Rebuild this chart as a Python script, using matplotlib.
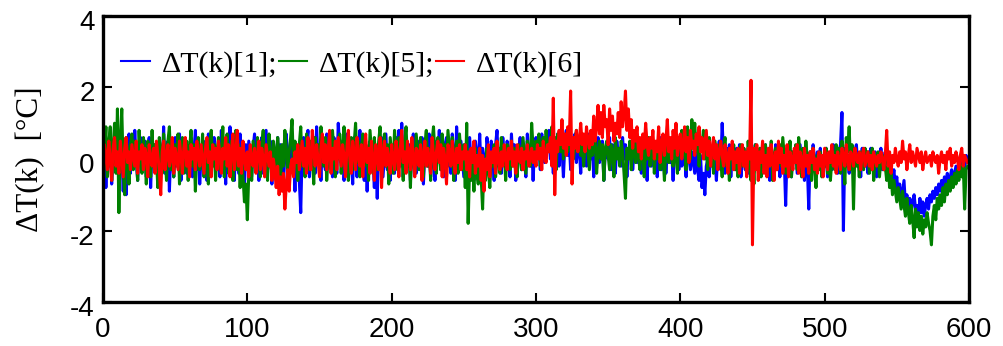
import matplotlib
matplotlib.use("Agg")
import matplotlib.pyplot as plt
import matplotlib.transforms as mtrans
import numpy as np

# temperature deviation, one value per step k = 0..599
dt1 = [
    0.3, 0.8, -0.8, 0.5, -0.2, 0.6, -0.7, 0.2, 0.4, -0.3,
    0.1, -0.5, 0.6, 0.2, -0.9, 0.4, -1.0, 0.3, 0.7, -0.4,
    0.5, -0.2, 0.8, 0.0, -0.6, 0.3, 0.6, -0.3, 0.1, 0.5,
    -0.5, 0.2, 0.6, -0.8, 0.3, -0.2, 0.4, 0.0, -0.6, 0.5,
    0.2, -0.3, 0.9, -0.4, 0.1, 0.5, -0.9, 0.3, 0.0, -0.5,
    0.6, -0.2, 0.3, 0.7, -0.6, 0.2, -0.1, 0.5, -0.4, 0.3,
    0.0, 0.6, -0.5, 0.2, 0.8, -0.3, 0.4, -0.7, 0.1, 0.3,
    -0.2, 0.5, -0.6, 0.7, 0.0, -0.4, 0.3, 0.6, -0.2, 0.1,
    0.4, -0.5, 0.8, -0.1, 0.2, -0.7, 0.5, 0.0, 0.9, -0.3,
    0.3, -0.6, 0.6, 0.1, -0.4, 0.7, -0.2, 0.2, -0.8, 0.4,
    -0.3, 0.5, 0.0, -0.5, 0.3, 0.7, -0.2, 0.4, -0.6, 0.1,
    0.6, -0.4, 0.2, 0.8, -0.3, 0.0, 0.5, -0.7, 0.3, 0.1,
    -0.2, 0.6, -0.5, 0.4, 0.0, -0.8, 0.3, 0.7, -0.4, 0.2,
    0.5, -0.3, 0.1, -0.9, 0.4, 0.0, -0.6, -1.5, 0.3, 0.6,
    -0.2, 0.4, 0.8, -0.5, 0.2, 0.0, 0.6, -0.4, 0.9, -0.1,
    0.3, -0.6, 0.5, 0.1, -0.3, 0.7, -0.2, 0.4, 0.0, -0.5,
    0.6, 0.2, -0.4, 1.0, 0.3, -0.1, 0.5, -0.6, 0.2, 0.7,
    -0.3, 0.4, 0.0, -0.7, 0.6, 0.2, -0.5, 0.3, 0.8, -0.2,
    0.1, -0.6, 0.4, -0.9, 0.2, 0.5, -0.3, 0.0, -0.8, 0.3,
    -1.1, 0.4, -0.2, 0.6, -0.5, 0.1, 0.7, -0.3, 0.2, -0.6,
    0.4, 0.0, -0.4, 0.6, 0.2, 0.8, -0.2, 1.0, -0.5, 0.3,
    0.6, -0.1, 0.4, -0.6, 0.2, 0.7, 0.0, -0.4, 0.5, 0.1,
    -0.3, 0.6, -0.7, 0.2, 0.4, -0.2, 0.7, -0.5, 0.1, 0.3,
    -0.6, 0.5, 0.0, 0.8, -0.3, 0.2, -0.5, 0.4, 0.6, -0.2,
    0.3, -0.4, 0.7, 0.1, -0.6, 0.9, 0.2, -0.3, 0.5, 0.0,
    -0.5, 0.4, 0.2, -0.3, 0.6, -0.1, 0.3, -0.6, 0.5, 0.1,
    -0.2, 0.7, -0.4, 0.3, 0.0, -0.5, 0.6, 0.2, -0.3, 0.5,
    0.1, -0.6, 0.4, 0.8, -0.2, 0.3, -0.4, 0.6, 0.0, -0.3,
    0.5, 0.2, -0.5, 0.7, -0.1, 0.4, -0.6, 0.3, 0.1, 0.6,
    -0.3, 0.4, 0.0, -0.5, 0.7, 0.2, -0.2, 0.5, -0.6, 0.3,
    0.6, 0.1, 0.4, -0.3, 0.7, 0.2, -0.1, 0.5, 0.3, 0.8,
    0.0, 0.4, -0.4, 0.6, 0.2, 0.7, -0.2, 0.5, 0.3, -0.5,
    0.4, 0.8, 0.1, 0.5, -0.3, 0.6, 0.2, 0.7, -0.1, 0.4,
    0.3, -0.4, 0.6, 0.1, 0.5, -0.2, 0.7, 0.3, 0.0, 0.5,
    -0.5, 0.4, 0.2, 0.6, -0.1, 0.3, 0.5, -0.6, 0.2, 0.4,
    0.0, 0.6, -0.3, 0.4, 0.2, -0.4, 0.5, 0.1, 0.3, -0.2,
    0.6, 0.0, 0.4, -0.5, 0.3, 0.1, 0.5, -0.3, 0.2, 0.6,
    -0.1, 0.4, 0.2, -0.4, 0.5, 0.0, 0.3, -0.6, 0.4, 0.1,
    -0.2, 0.5, 0.0, 0.3, -0.5, 0.2, 0.6, -0.3, 0.1, 0.4,
    -0.4, 0.2, 0.5, -0.1, 0.3, -0.6, 0.4, 0.0, 0.2, -0.3,
    0.5, -0.2, 0.3, 0.0, -0.5, 0.4, 0.1, -0.3, 0.2, -0.1,
    -0.4, 0.3, -0.3, -0.6, 0.1, -0.8, -0.4, -1.0, -0.2, 0.0,
    -0.5, 0.3, -0.2, 0.4, 0.0, -0.6, 0.2, 0.5, -0.3, 1.0,
    0.1, -0.4, 0.3, -0.1, 0.4, -0.5, 0.2, 0.0, -0.3, 0.3,
    -0.2, 0.4, -0.5, 0.1, 0.3, -0.3, 0.2, -0.4, 0.0, 0.3,
    -0.6, 0.2, 0.4, -0.2, 0.1, -0.5, 0.3, 0.0, -0.3, 0.4,
    -0.1, 0.2, -0.6, 0.3, 0.0, -0.4, 0.4, -0.2, 0.1, -0.5,
    0.2, -0.3, 0.0, -1.3, 0.3, -0.2, 0.1, -0.5, 0.2, -0.1,
    0.3, -0.4, 0.0, 0.4, -0.3, 0.1, -0.6, 0.2, -0.2, -1.4,
    0.2, -0.3, 0.4, 0.0, -0.5, 0.2, -0.1, 0.3, -0.4, 0.1,
    -0.2, 0.3, -0.5, 0.0, 0.2, -0.3, 0.4, -0.1, 0.1, -0.4,
    0.2, 0.4, 1.3, -2.0, 0.3, -0.2, 0.1, -0.4, 0.3, 0.0,
    -0.3, 0.2, 0.4, -0.2, 0.1, -0.5, 0.3, 0.0, -0.2, 0.2,
    -0.4, 0.1, 0.3, -0.3, 0.0, 0.2, -0.5, 0.1, -0.1, 0.3,
    -0.3, 0.0, 0.2, -0.4, -0.1, -0.5, -0.2, -0.6, -0.3, -0.8,
    -0.5, -1.0, -0.7, -1.2, -0.9, -0.6, -1.3, -1.0, -1.4, -1.1,
    -1.5, -1.2, -1.0, -1.4, -1.3, -1.6, -1.1, -1.5, -1.2, -1.6,
    -1.3, -1.1, -1.4, -1.0, -1.2, -0.9, -1.1, -0.8, -1.0, -0.7,
    -0.9, -0.6, -0.8, -0.5, -0.7, -0.4, -0.8, -0.5, -0.3, -0.6,
    -0.4, -0.2, -0.5, -0.1, -0.3, 0.0, -0.4, -0.2, 0.1, -0.1,
]

dt5 = [
    -0.8, 0.2, 0.9, -0.5, 0.4, 0.9, -0.6, 0.3, 1.0, -0.4,
    1.4, -1.5, 0.5, 1.4, -0.3, -1.0, 0.6, 0.2, -0.7, 0.4,
    0.7, -0.3, 0.5, 0.1, -0.6, 0.8, 0.0, -0.4, 0.6, 0.2,
    -0.7, 0.5, 0.3, -0.5, 0.8, -0.2, 0.4, 0.0, -0.8, 0.6,
    0.2, -0.4, 0.7, 0.1, -0.6, 0.5, 0.9, -0.3, 0.3, -0.5,
    0.4, 0.0, 0.7, -0.7, 0.2, 0.6, -0.4, 0.1, 0.5, -0.6,
    0.3, 0.8, -0.2, 0.4, -0.9, 0.2, 0.6, -0.3, 0.0, 0.7,
    -0.5, 0.3, 0.1, -0.7, 0.5, 0.8, -0.2, 0.4, -0.6, 0.2,
    0.6, -0.3, 0.0, 0.9, -0.5, 0.3, 0.7, -0.4, 0.1, 0.5,
    -0.6, 0.2, 0.8, -0.3, 0.4, -0.8, 0.1, -0.5, -1.2, -0.7,
    -1.7, -0.4, 0.3, -0.6, 0.5, 0.1, -0.3, 0.6, 0.2, -0.5,
    0.4, 0.8, -0.2, 0.3, -0.6, 0.7, 0.0, -0.4, 0.5, 0.2,
    -0.3, 0.6, 0.1, -0.7, 0.4, -0.2, 0.8, 0.3, -0.5, 0.2,
    0.6, 1.1, -0.3, 0.5, 0.0, -0.6, 0.4, 0.9, -0.2, 0.3,
    -0.5, 0.7, 0.1, -0.3, 0.5, 0.2, -0.7, 0.6, 0.0, 0.4,
    -0.4, 0.9, 0.3, -0.2, 0.6, -0.6, 0.1, 0.5, -0.3, 0.8,
    0.2, -0.5, 0.4, 0.0, 0.7, -0.4, 0.3, 0.9, -0.2, 0.5,
    -0.6, 0.2, 0.6, -0.3, 0.4, 1.0, -0.1, 0.5, -0.5, 0.3,
    0.7, -0.2, 0.4, 0.1, -0.6, 0.8, 0.2, -0.4, 0.6, 0.0,
    -0.3, 0.5, 0.9, -0.5, 0.3, 0.7, -0.2, 0.4, -0.7, 0.6,
    0.1, -0.4, 0.8, 0.2, -0.3, 0.6, 0.0, 0.4, -0.6, 0.5,
    0.9, -0.2, 0.3, -0.8, 0.5, 0.1, -0.4, 0.7, 0.2, -0.3,
    0.6, 0.0, -0.5, 0.4, 0.8, -0.2, 0.3, -0.6, 0.5, 0.9,
    0.1, -0.4, 0.6, 0.2, -0.3, 0.7, 0.0, 0.4, -0.5, 0.8,
    0.3, -0.2, 0.6, -0.6, 0.2, 0.5, -0.4, 0.7, 0.1, -0.3,
    0.4, -0.8, 1.0, -1.8, -0.2, -0.6, 0.1, -0.9, 0.3, -0.4,
    -0.7, 0.2, -0.5, -1.4, 0.0, -0.6, 0.3, -0.3, -0.8, 0.1,
    -0.2, 0.4, -0.5, 0.0, 0.3, -0.4, 0.6, -0.1, 0.2, -0.6,
    0.4, 0.1, -0.3, 0.5, -0.2, 0.3, 0.0, -0.5, 0.4, 0.2,
    -0.3, 0.6, 0.1, -0.4, 0.5, 0.2, -0.2, 1.0, 0.3, -0.1,
    0.5, 0.1, 0.7, -0.2, 0.4, 0.6, 0.0, 0.8, 0.2, 0.5,
    0.3, 0.9, 0.1, 0.6, -0.3, 0.7, 0.4, 0.2, 0.8, 0.0,
    0.5, 0.7, 0.2, 0.9, 0.3, 0.6, 0.0, 0.4, 0.8, 0.2,
    0.6, 0.1, 0.5, -0.2, 0.4, 0.7, 0.2, -0.3, 0.5, 0.1,
    0.3, 0.6, -0.4, 0.2, 0.5, 0.0, 0.4, -0.6, 0.3, 0.5,
    0.1, -0.3, 0.4, 0.2, -0.5, 0.6, 0.0, 0.3, -0.2, 0.5,
    0.2, -0.4, -1.1, 0.3, 0.0, 0.5, -0.3, 0.2, 0.6, -0.1,
    0.4, 0.1, -0.3, 0.5, 0.2, -0.5, 0.3, 0.0, 0.6, -0.2,
    0.2, 0.5, -0.4, 0.3, 0.0, 0.6, -0.3, 0.4, 0.1, -0.6,
    0.3, 0.7, -0.1, 0.4, 0.2, -0.2, 0.5, 0.1, -0.4, 0.6,
    0.3, 0.8, 0.1, 0.5, -0.3, 0.9, 0.4, 0.0, 1.1, 0.3,
    1.0, 0.2, 0.7, -0.2, 0.5, 0.3, 0.8, 0.0, 0.4, -0.3,
    0.6, 0.1, 0.3, -0.4, 0.5, 0.2, -0.1, 0.4, 0.0, -0.5,
    0.3, 0.6, -0.2, 0.1, -0.6, 0.3, 0.0, 0.4, -0.3, 0.2,
    -0.5, 0.1, 0.4, -0.2, 0.3, 0.0, -0.4, 0.5, -0.1, -0.6,
    0.2, -0.7, 0.4, 0.0, -0.3, 0.3, -0.5, 0.1, -0.2, 0.4,
    -0.4, 0.2, -0.1, 0.5, -0.6, 0.1, 0.3, -0.3, 0.0, 0.4,
    -0.2, 0.6, 0.1, -0.4, 0.3, -0.1, 0.5, -0.5, 0.2, 0.0,
    0.4, -0.3, 0.6, 0.1, -0.5, 0.3, -0.2, 0.5, 0.0, -0.4,
    0.2, -0.6, 0.3, -0.1, -0.8, 0.1, -0.3, 0.2, -0.5, 0.0,
    -0.2, 0.3, -0.4, 0.1, -0.6, 0.0, 0.2, -0.3, 0.4, -0.1,
    0.3, -0.4, 0.5, 0.0, -0.7, 0.6, 0.2, 0.9, -0.3, 0.4,
    -1.4, 0.3, -0.2, 0.1, -0.5, 0.2, 0.0, -0.3, 0.3, -0.1,
    0.2, -0.4, 0.0, 0.3, -0.6, 0.1, -0.2, 0.2, -0.5, 0.0,
    0.1, -0.3, -0.2, -0.6, 0.0, -0.8, -0.4, -1.0, -0.6, -0.9,
    -1.2, -0.8, -1.1, -1.4, -0.9, -1.3, -1.6, -1.1, -1.5, -1.8,
    -1.3, -1.7, -2.2, -1.4, -1.9, -1.5, -2.0, -1.6, -2.1, -1.7,
    -1.9, -1.5, -1.8, -2.0, -2.4, -1.6, -1.3, -1.7, -1.1, -1.4,
    -1.0, -1.3, -0.8, -1.2, -0.7, -1.0, -0.6, -0.9, -0.5, -0.8,
    -0.4, -0.7, -0.3, -0.6, -0.2, -0.5, -0.1, -1.4, -0.3, -0.2,
]

dt6 = [
    -0.5, 0.4, 0.1, -0.3, 0.5, 0.0, -0.6, 0.3, 0.6, -0.2,
    0.2, -0.4, 0.5, 0.0, -0.5, 0.3, 0.6, -0.1, 0.2, -0.3,
    0.4, 0.1, -0.2, 0.5, -0.4, 0.2, 0.0, 0.4, -0.3, 0.3,
    0.1, -0.5, 0.4, 0.0, -0.2, 0.3, -0.4, 0.5, 0.1, -0.3,
    -1.0, 0.2, 0.5, -0.3, 0.1, 0.4, -0.2, 0.0, 0.6, -0.4,
    0.3, 0.0, -0.3, 0.5, 0.1, -0.4, 0.3, 0.6, -0.2, 0.2,
    -0.5, 0.4, 0.0, 0.3, -0.3, 0.5, 0.1, -0.2, 0.4, 0.0,
    -0.4, 0.3, 0.6, -0.1, 0.2, -0.5, 0.4, 0.0, 0.3, -0.3,
    0.5, 0.1, -0.4, 0.3, 0.0, 0.6, -0.2, 0.4, -0.5, 0.2,
    0.7, -0.3, 0.1, 0.8, -0.2, 0.3, -0.4, 0.5, 0.0, -0.3,
    0.2, -0.5, 0.4, 0.0, -0.2, 0.3, -0.4, 0.1, 0.5, -0.3,
    0.3, 0.0, -0.5, 0.4, 0.1, -0.2, 0.2, -0.6, 0.0, -0.3,
    -0.8, -0.2, -1.0, -0.5, -0.9, -0.4, -1.4, -0.7, -0.3, -0.9,
    -0.2, 0.0, -0.5, 0.2, -0.1, 0.4, -0.3, 0.1, 0.5, -0.2,
    0.3, -0.4, 0.6, 0.0, -0.3, 0.8, 0.2, -0.2, 0.4, 0.0,
    -0.5, 0.3, 0.7, -0.1, 0.4, -0.3, 0.2, 0.8, -0.4, 0.3,
    0.0, 0.5, -0.3, 0.6, 0.2, -0.2, 0.4, 0.1, -0.5, 0.3,
    0.8, 0.0, -0.4, 0.5, 0.2, -0.3, 0.6, 0.1, -0.2, 0.4,
    -0.5, 0.2, 0.7, -0.1, 0.3, -0.4, 0.5, 0.0, -0.6, 0.4,
    0.1, -0.3, 0.6, -0.8, 0.2, 0.5, -0.2, 0.3, 0.0, -0.4,
    0.4, 0.0, -0.3, 0.5, 0.2, -0.5, 0.3, 0.8, -0.1, 0.2,
    -0.4, 0.5, 0.1, -0.3, 0.6, 0.0, -0.5, 0.3, 0.2, -0.2,
    0.4, -0.6, 0.1, 0.5, -0.2, 0.3, 0.0, -0.4, 0.6, 0.1,
    -0.3, 0.2, 0.5, -0.1, 0.4, -0.5, 0.3, 0.0, -0.7, 0.4,
    0.2, -0.2, 0.5, 0.0, -0.4, 0.3, -0.1, 0.4, -0.3, 0.2,
    0.0, 0.4, -0.3, 0.2, -0.5, 0.3, -0.1, 0.5, -0.4, 0.1,
    -0.2, 0.3, -0.6, 0.1, -0.9, 0.0, -0.3, 0.4, -0.5, 0.2,
    -0.1, 0.3, -0.4, 0.5, 0.0, -0.3, 0.2, -0.2, 0.4, 0.1,
    -0.3, 0.3, 0.0, 0.5, -0.2, 0.2, -0.4, 0.4, 0.1, -0.1,
    0.3, -0.3, 0.2, 0.0, 0.4, -0.2, 0.1, 0.3, -0.1, 0.2,
    -0.2, 0.4, 0.0, 0.3, -0.3, 0.5, 0.1, -0.1, 0.4, 0.2,
    0.6, -0.2, 1.7, -1.0, 0.5, 0.2, 0.8, 0.4, 1.1, 0.3,
    0.7, 0.1, 0.9, 0.4, 1.9, -0.7, 0.6, 0.3, 0.8, 0.2,
    0.5, 1.0, 0.4, 0.7, 0.2, 0.9, 0.5, 0.3, 0.8, 0.4,
    1.2, 0.5, 0.9, 1.5, 0.7, 1.3, 0.6, 1.5, 0.9, 1.1,
    0.4, 1.4, 0.8, 1.2, 0.5, 1.0, 0.7, 1.3, 0.6, 1.6,
    0.9, 1.2, 1.9, 0.8, 1.4, 0.6, 1.1, 0.3, 0.8, 0.5,
    0.9, 0.2, 0.6, 0.0, 0.7, 0.3, 1.0, 0.4, 0.1, 0.6,
    0.3, 0.8, 0.0, 0.5, 0.2, 0.9, -0.1, 0.4, 0.7, 0.1,
    0.5, 1.1, 0.2, 0.6, 0.0, 0.8, 0.3, 1.0, 0.1, 0.5,
    0.7, 0.0, 0.4, 0.9, 0.2, 0.6, -0.1, 0.8, 0.3, 0.5,
    0.1, 0.7, 0.4, 0.9, 0.2, 0.6, 0.0, 0.4, 0.8, 0.1,
    0.5, -0.2, 0.3, 0.6, 0.0, 0.4, -0.3, 0.2, 0.5, 0.1,
    -0.2, 0.4, 0.1, -0.4, 0.3, 0.0, 0.5, -0.3, 0.2, -0.1,
    0.3, -0.4, 0.1, 0.4, -0.2, 0.2, -0.5, 0.3, 0.0, 2.2,
    -2.4, 0.3, -0.3, 0.4, -0.6, 0.2, -0.1, 0.5, -0.4, 0.1,
    -0.5, 0.3, -0.2, 0.4, 0.0, -0.6, 0.2, -0.3, 0.5, -0.1,
    0.3, -0.4, 0.1, -0.2, 0.4, -0.5, 0.2, 0.0, -0.3, 0.3,
    -0.1, 0.4, -0.4, 0.2, 0.0, -0.5, 0.3, -0.2, 0.1, -0.4,
    0.2, -0.1, 0.3, -0.3, 0.0, -0.4, 0.2, -0.2, 0.1, -0.5,
    0.3, 0.0, -0.3, 0.2, -0.1, 0.4, -0.2, 0.1, -0.4, 0.2,
    0.0, -0.3, 0.3, 0.1, -0.2, 0.4, 0.0, -0.3, 0.2, 0.1,
    -0.2, 0.3, 0.0, -0.1, 0.2, -0.3, 0.1, 0.3, -0.2, 0.0,
    0.2, -0.2, 0.1, -0.3, 0.2, 0.0, -0.2, 0.1, -0.1, 0.2,
    0.0, -0.3, 0.1, 0.8, -0.2, 0.2, -0.4, 0.1, -0.1, 0.3,
    0.0, -0.2, 0.2, -0.1, 0.5, 0.0, 0.2, -0.3, 0.1, 0.4,
    -0.1, 0.2, 0.0, -0.2, 0.3, 0.1, -0.1, 0.2, -0.3, 0.0,
    0.2, -0.1, 0.0, 0.1, -0.2, 0.2, 0.0, -0.1, 0.1, -0.4,
    0.0, 0.2, -0.1, 0.1, -0.3, 0.2, 0.0, 0.3, -0.2, 0.1,
    -0.1, 0.2, 0.0, -0.3, 0.1, 0.3, -0.2, 0.1, 0.0, -0.1,
]

k = np.arange(len(dt1))
labels = ['\u0394T(k)[1];', '\u0394T(k)[5];', '\u0394T(k)[6]']
colors = ['#0000ff', '#008000', '#ff0000']

plt.rcParams['axes.unicode_minus'] = False

fig = plt.figure(figsize=(10.04, 3.46), dpi=100)
ax = fig.add_axes([0.1026, 0.127, 0.8625, 0.827])

for y, c, lab in zip([dt1, dt5, dt6], colors, labels):
    ax.plot(k, y, color=c, lw=2.2, label=lab)

ax.set_xlim(0, 600)
ax.set_ylim(-4, 4)
ax.set_xticks([0, 100, 200, 300, 400, 500, 600])
ax.set_yticks([-4, -2, 0, 2, 4])
ax.tick_params(direction='in', length=6.5, width=1.5, top=True, right=True,
               labelsize=20, pad=6)
ax.tick_params(axis='x', pad=11)
for lbl in ax.get_xticklabels() + ax.get_yticklabels():
    lbl.set_family('Liberation Sans')
# y labels in the original sit a few pixels below their ticks
shift = mtrans.ScaledTranslation(0, -4 / 100, fig.dpi_scale_trans)
for lbl in ax.get_yticklabels():
    lbl.set_transform(lbl.get_transform() + shift)
for s in ax.spines.values():
    s.set_linewidth(2.4)

ax.set_ylabel('\u0394T(k)  [\u00b0C]', family='Liberation Serif', fontsize=22.5,
              labelpad=18)

leg = ax.legend(loc='center left', bbox_to_anchor=(0.021, 0.832), ncol=3,
                frameon=False, borderpad=0, borderaxespad=0,
                handlelength=0.95, handletextpad=0.4, columnspacing=0.05,
                prop={'family': 'Liberation Serif', 'size': 21.5})
for h in leg.get_lines():
    h.set_linewidth(1.5)

fig.savefig('out.png', dpi=100)
